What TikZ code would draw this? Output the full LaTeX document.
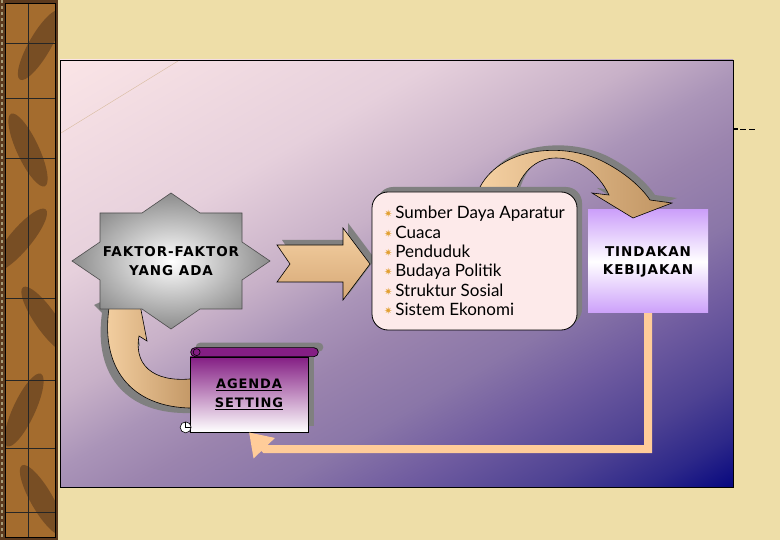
\documentclass[tikz,border=0pt]{standalone}
\usepackage{fontspec}
\setmainfont{Lato}
\newfontfamily\labelfont[LetterSpace=7]{DejaVu Sans}
\newfontfamily\bulletfont{DejaVu Sans}
\usetikzlibrary{positioning, calc, arrows.meta, shadows}

\definecolor{beige}{RGB}{238,222,168}
\definecolor{woodbrown}{RGB}{164,108,46}
\definecolor{wooddark}{RGB}{92,58,30}
\definecolor{shadowgray}{RGB}{128,128,128}
\definecolor{peach}{RGB}{255,204,153}
\definecolor{tanlight}{RGB}{246,210,164}
\definecolor{tandark}{RGB}{192,148,98}
\definecolor{arrowtop}{RGB}{244,208,162}
\definecolor{arrowbottom}{RGB}{214,168,118}
\definecolor{listpink}{RGB}{253,234,234}
\definecolor{violetbox}{RGB}{204,160,250}
\definecolor{scrollpurple}{RGB}{132,30,132}
\definecolor{scrollmid}{RGB}{206,176,216}
\definecolor{bulletorange}{RGB}{226,160,50}
% panel gradient stops
\definecolor{panA}{RGB}{6,6,126}
\definecolor{panB}{RGB}{10,10,128}
\definecolor{panC}{RGB}{45,40,137}
\definecolor{panD}{RGB}{78,66,147}
\definecolor{panE}{RGB}{112,92,160}
\definecolor{panF}{RGB}{138,118,168}
\definecolor{panG}{RGB}{155,132,174}
\definecolor{panH}{RGB}{170,148,184}
\definecolor{panI}{RGB}{200,177,200}
\definecolor{panJ}{RGB}{230,208,220}
\definecolor{panK}{RGB}{250,228,230}

\pgfdeclareverticalshading{panelshade}{100bp}{%
  color(0bp)=(panA); color(16bp)=(panB); color(20bp)=(panC);
  color(25bp)=(panD); color(32bp)=(panE); color(38bp)=(panF);
  color(45bp)=(panG); color(50bp)=(panH); color(56bp)=(panI);
  color(66bp)=(panJ); color(84bp)=(panK); color(100bp)=(panK)}

\newcommand{\listbul}{\raisebox{1pt}{\bulletfont\fontsize{10}{10}\selectfont\color{bulletorange}✷}\,}

\tikzset{
  up shadow/.style={drop shadow={shadow xshift=5pt, shadow yshift=5pt, fill=shadowgray, opacity=1}},
  tan arrow/.style={left color=tanlight, right color=tandark, draw=black, line width=0.6pt},
  listbox/.style={draw=black, line width=0.8pt, fill=listpink, rounded corners=16pt,
    minimum width=205pt, minimum height=138pt, inner sep=0pt, align=left,
    font=\fontsize{17}{19.4}\selectfont, up shadow},
  tindbox/.style={top color=violetbox, bottom color=violetbox, middle color=white,
    minimum width=120pt, minimum height=103pt, inner sep=0pt, align=center,
    font=\labelfont\bfseries\fontsize{13.5}{18}\selectfont},
  scrollbody/.style={draw=black, line width=0.7pt, top color=scrollpurple,
    middle color=scrollmid, bottom color=white, minimum width=118pt,
    minimum height=75pt, inner sep=0pt, align=center,
    font=\labelfont\bfseries\fontsize{13}{19}\selectfont,
    drop shadow={shadow xshift=6pt, shadow yshift=6pt, fill=shadowgray, opacity=1}},
  peachline/.style={draw=peach, line width=8pt, -{Triangle[length=22pt, width=28pt]}}
}

\begin{document}
\begin{tikzpicture}[x=1pt, y=-1pt]
    \useasboundingbox (0,0) rectangle (780,540);
    \fill[beige] (0,0) rectangle (780,540);

    % wood strip
    \fill[wooddark] (0,0) rectangle (58,540);
    \fill[woodbrown] (5,3) rectangle (55,537);
    \begin{scope}
      \clip (5,3) rectangle (55,537);
      \foreach \x/\y/\r in {40/45/-30, 28/150/25, 20/240/-40, 46/320/35, 24/410/-25, 42/500/30}
        \fill[wooddark, opacity=0.6, rotate around={\r:(\x,\y)}] (\x,\y) ellipse (11 and 40);
    \end{scope}
    \draw[black!85, line width=0.8pt] (28,3) -- (28,537);
    \foreach \y in {43, 98, 158, 298, 380, 448, 512}
      \draw[black!85, line width=0.8pt] (5,\y) -- (55,\y);
    \draw[beige!70!black, line width=2pt, dash pattern=on 3pt off 3pt] (2,0) -- (2,540);
    \draw[black, line width=0.8pt] (5,3) rectangle (55,537);

    % panel
    \shade[shading=panelshade, shading angle=30] (60,60) rectangle (733,487);
    \draw[black, line width=0.8pt] (60,60) rectangle (733,487);
    \draw[tandark!70, line width=0.5pt, opacity=0.7] (61,133) -- (178,61);
    \draw[black, line width=1.5pt] (733,129) -- (738,129);
    \draw[black, line width=0.8pt, dash pattern=on 6pt off 3pt] (740,129) -- (755,129);

    % arrow back to the star
    \shade[tan arrow, drop shadow={shadow xshift=-7pt, shadow yshift=-5pt, fill=shadowgray, opacity=1}]
      (198,408) .. controls (135,410) and (100,372) .. (109,308) -- (101,300) -- (136,284)
      -- (147,341) -- (139,336) .. controls (133,370) and (160,384) .. (198,378) -- cycle;

    % star
    \path (171,261) coordinate (star c);
    \shade[inner color=white, outer color=black!45, draw=black!70, line width=0.6pt]
      ($(star c)+(0,-68)$) -- ($(star c)+(29,-48)$) -- ($(star c)+(71,-48)$)
      -- ($(star c)+(71,-19)$) -- ($(star c)+(99,0)$) -- ($(star c)+(71,19)$)
      -- ($(star c)+(71,48)$) -- ($(star c)+(29,48)$) -- ($(star c)+(0,68)$)
      -- ($(star c)+(-29,48)$) -- ($(star c)+(-71,48)$) -- ($(star c)+(-71,19)$)
      -- ($(star c)+(-99,0)$) -- ($(star c)+(-71,-19)$) -- ($(star c)+(-71,-48)$)
      -- ($(star c)+(-29,-48)$) -- cycle;
    \node[font=\labelfont\bfseries\fontsize{13.5}{19}\selectfont, align=center, inner sep=0pt]
      (faktor) at (star c) {FAKTOR-FAKTOR\\YANG ADA};

    % block arrow
    \shade[top color=arrowtop, bottom color=arrowbottom, draw=black, line width=0.6pt, up shadow]
      (277,245) -- (343,245) -- (343,228) -- (370,264) -- (343,300) -- (343,282)
      -- (277,282) -- (290,264) -- cycle;

    % policy box
    \node[tindbox] (tindakan) at (648,261.5) {TINDAKAN\\KEBIJAKAN};

    % arrow over the top
    \shade[tan arrow, up shadow]
      (475,200) .. controls (488,150) and (555,140) .. (600,160)
      .. controls (625,172) and (642,188) .. (650,200) -- (672,203) -- (633,218)
      -- (592,193) -- (609,195) .. controls (598,172) and (578,158) .. (556,158)
      .. controls (536,158) and (520,172) .. (513,200) -- cycle;

    % factor list
    \node[listbox] (factors) at (474.5,261) {\listbul Sumber Daya Aparatur\\
      \listbul Cuaca\\ \listbul Penduduk\\ \listbul Budaya Politik\\
      \listbul Struktur Sosial\\ \listbul Sistem Ekonomi};

    % scroll
    \node[scrollbody] (agenda) at (249,394.5) {\underline{AGENDA}\\\underline{SETTING}};
    \filldraw[fill=scrollpurple, draw=black, line width=0.7pt, rounded corners=4.5pt, up shadow]
      ($(agenda.north west)+(1,-9)$) rectangle ($(agenda.north east)+(10,0)$);
    \draw[black, line width=0.6pt] ($(agenda.north west)+(7,-4.5)$) circle (3.5);
    \filldraw[fill=white, draw=black, line width=0.6pt] ($(agenda.south west)+(-4,-5)$) circle (5.5);
    \draw[black, line width=0.6pt] ($(agenda.south west)+(-4,-10.5)$) -- ($(agenda.south west)+(-4,-5)$) -- ($(agenda.south west)+(1,-5)$);

    \draw[peachline] (tindakan.south) |- (265,449) -- (agenda.south);
\end{tikzpicture}
\end{document}
